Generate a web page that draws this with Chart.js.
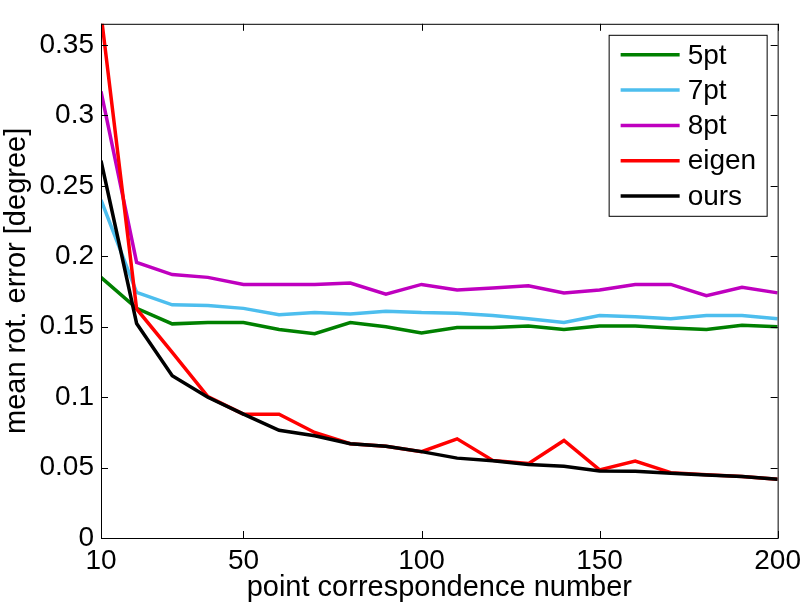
<!DOCTYPE html>
<html>
<head>
<meta charset="utf-8">
<script src="https://cdn.jsdelivr.net/npm/chart.js@4.4.0/dist/chart.umd.min.js"></script>
<style>
    html, body { margin: 0; padding: 0; background: #fff; }
    #wrap { width: 807px; height: 611px; }
</style>
</head>
<body>
<div id="wrap"><canvas id="errChart" width="807" height="611"></canvas></div>
<script>
// point correspondence numbers
const pointCounts = [10, 20, 30, 40, 50, 60, 70, 80, 90, 100, 110, 120, 130, 140, 150, 160, 170, 180, 190, 200];

// mean rotation error [degree]
const err5pt = [0.185, 0.163, 0.152, 0.153, 0.153, 0.148, 0.145, 0.153, 0.150, 0.1455,
                0.1494, 0.1494, 0.1505, 0.148, 0.1505, 0.1505, 0.149, 0.148, 0.151, 0.150];
const err7pt = [0.240, 0.1744, 0.1655, 0.165, 0.163, 0.1585, 0.160, 0.159, 0.161, 0.160,
                0.1596, 0.158, 0.1557, 0.153, 0.158, 0.157, 0.1557, 0.158, 0.158, 0.1557];
const err8pt = [0.317, 0.1956, 0.187, 0.185, 0.180, 0.180, 0.180, 0.181, 0.173, 0.180,
                0.176, 0.1774, 0.179, 0.174, 0.176, 0.180, 0.180, 0.172, 0.178, 0.174];
const errEigen = [0.372, 0.1626, 0.1318, 0.1004, 0.0879, 0.0879, 0.0749, 0.0669, 0.0651, 0.0613,
                  0.0704, 0.0551, 0.0528, 0.0692, 0.0483, 0.0546, 0.0464, 0.0449, 0.0437, 0.0417];
const errOurs = [0.2678, 0.1523, 0.1152, 0.0999, 0.0879, 0.0765, 0.0726, 0.0669, 0.0651, 0.0613,
                 0.0567, 0.0549, 0.0521, 0.051, 0.0476, 0.0474, 0.046, 0.0447, 0.0437, 0.0417];

const seriesNames = ['5pt', '7pt', '8pt', 'eigen', 'ours'];
const seriesColors = ['#008000', '#4dbeee', '#bf00bf', '#ff0000', '#000000'];
const xTicks = [10, 50, 100, 150, 200];
const yTicks = [0, 0.05, 0.1, 0.15, 0.2, 0.25, 0.3, 0.35];

const allSeries = [err5pt, err7pt, err8pt, errEigen, errOurs];
const fontFam = '"Liberation Sans", Arial, sans-serif';

const datasets = allSeries.map((vals, i) => ({
    label: seriesNames[i],
    data: vals.map((v, j) => ({ x: pointCounts[j], y: v })),
    borderColor: seriesColors[i],
    backgroundColor: seriesColors[i],
    borderWidth: 3.5,
    pointRadius: 0,
    tension: 0,
    order: allSeries.length - i  // later series drawn on top, like matlab
}));

// box round the plot + inward ticks on all four sides, and the legend
const boxPlugin = {
    id: 'boxTicks',
    afterDatasetsDraw(chart) {
        const { ctx, chartArea: a, scales } = chart;
        ctx.save();
        ctx.strokeStyle = '#000';
        ctx.lineWidth = 1;
        ctx.strokeRect(a.left + 0.5, a.top + 0.5, a.right - a.left, a.bottom - a.top);
        const len = 7;
        ctx.beginPath();
        xTicks.forEach(t => {
            const px = Math.round(scales.x.getPixelForValue(t)) + 0.5;
            ctx.moveTo(px, a.bottom); ctx.lineTo(px, a.bottom - len);
            ctx.moveTo(px, a.top); ctx.lineTo(px, a.top + len);
        });
        yTicks.forEach(t => {
            const py = Math.round(scales.y.getPixelForValue(t)) + 0.5;
            ctx.moveTo(a.left, py); ctx.lineTo(a.left + len, py);
            ctx.moveTo(a.right, py); ctx.lineTo(a.right - len, py);
        });
        ctx.stroke();
        ctx.restore();
    },
    afterDraw(chart) {
        const { ctx, chartArea: a } = chart;
        const boxW = 158, boxH = 181;
        const bx = a.right - 11 - boxW, by = a.top + 11;
        ctx.save();
        ctx.fillStyle = '#fff';
        ctx.fillRect(bx, by, boxW, boxH);
        ctx.strokeStyle = '#000';
        ctx.lineWidth = 1;
        ctx.strokeRect(bx + 0.5, by + 0.5, boxW, boxH);
        ctx.font = '28px ' + fontFam;
        ctx.textBaseline = 'middle';
        seriesNames.forEach((name, i) => {
            const ry = by + 20 + i * 35.3;
            ctx.strokeStyle = seriesColors[i];
            ctx.lineWidth = 3.5;
            ctx.beginPath();
            ctx.moveTo(bx + 12, ry);
            ctx.lineTo(bx + 71, ry);
            ctx.stroke();
            ctx.fillStyle = '#000';
            ctx.fillText(name, bx + 79, ry + 1);
        });
        ctx.restore();
    }
};

new Chart(document.getElementById('errChart'), {
    type: 'line',
    data: { datasets: datasets },
    options: {
        responsive: false,
        animation: false,
        layout: { padding: { left: 0, right: 27, top: 3, bottom: 0 } },
        plugins: {
            legend: { display: false },
            tooltip: { enabled: false }
        },
        scales: {
            x: {
                type: 'linear',
                min: 10,
                max: 200,
                grid: { display: false, drawTicks: false },
                border: { display: false },
                afterBuildTicks: scale => { scale.ticks = xTicks.map(v => ({ value: v })); },
                afterFit: scale => { scale.height = 73; },
                ticks: {
                    color: '#000',
                    padding: 6,
                    maxRotation: 0,
                    font: { family: fontFam, size: 28 },
                    callback: v => String(v)
                },
                title: {
                    display: true,
                    text: 'point correspondence number',
                    color: '#000',
                    padding: { top: 0, bottom: 6 },
                    font: { family: fontFam, size: 29 }
                }
            },
            y: {
                min: 0,
                max: 0.365,
                grid: { display: false, drawTicks: false },
                border: { display: false },
                afterBuildTicks: scale => { scale.ticks = yTicks.map(v => ({ value: v })); },
                afterFit: scale => { scale.width = 101; },
                ticks: {
                    color: '#000',
                    padding: 7,
                    font: { family: fontFam, size: 28 },
                    callback: v => String(Math.round(v * 100) / 100)
                },
                title: {
                    display: true,
                    text: 'mean rot. error [degree]',
                    color: '#000',
                    padding: { top: 0, bottom: 0 },
                    font: { family: fontFam, size: 29 }
                }
            }
        }
    },
    plugins: [boxPlugin]
});
</script>
</body>
</html>
